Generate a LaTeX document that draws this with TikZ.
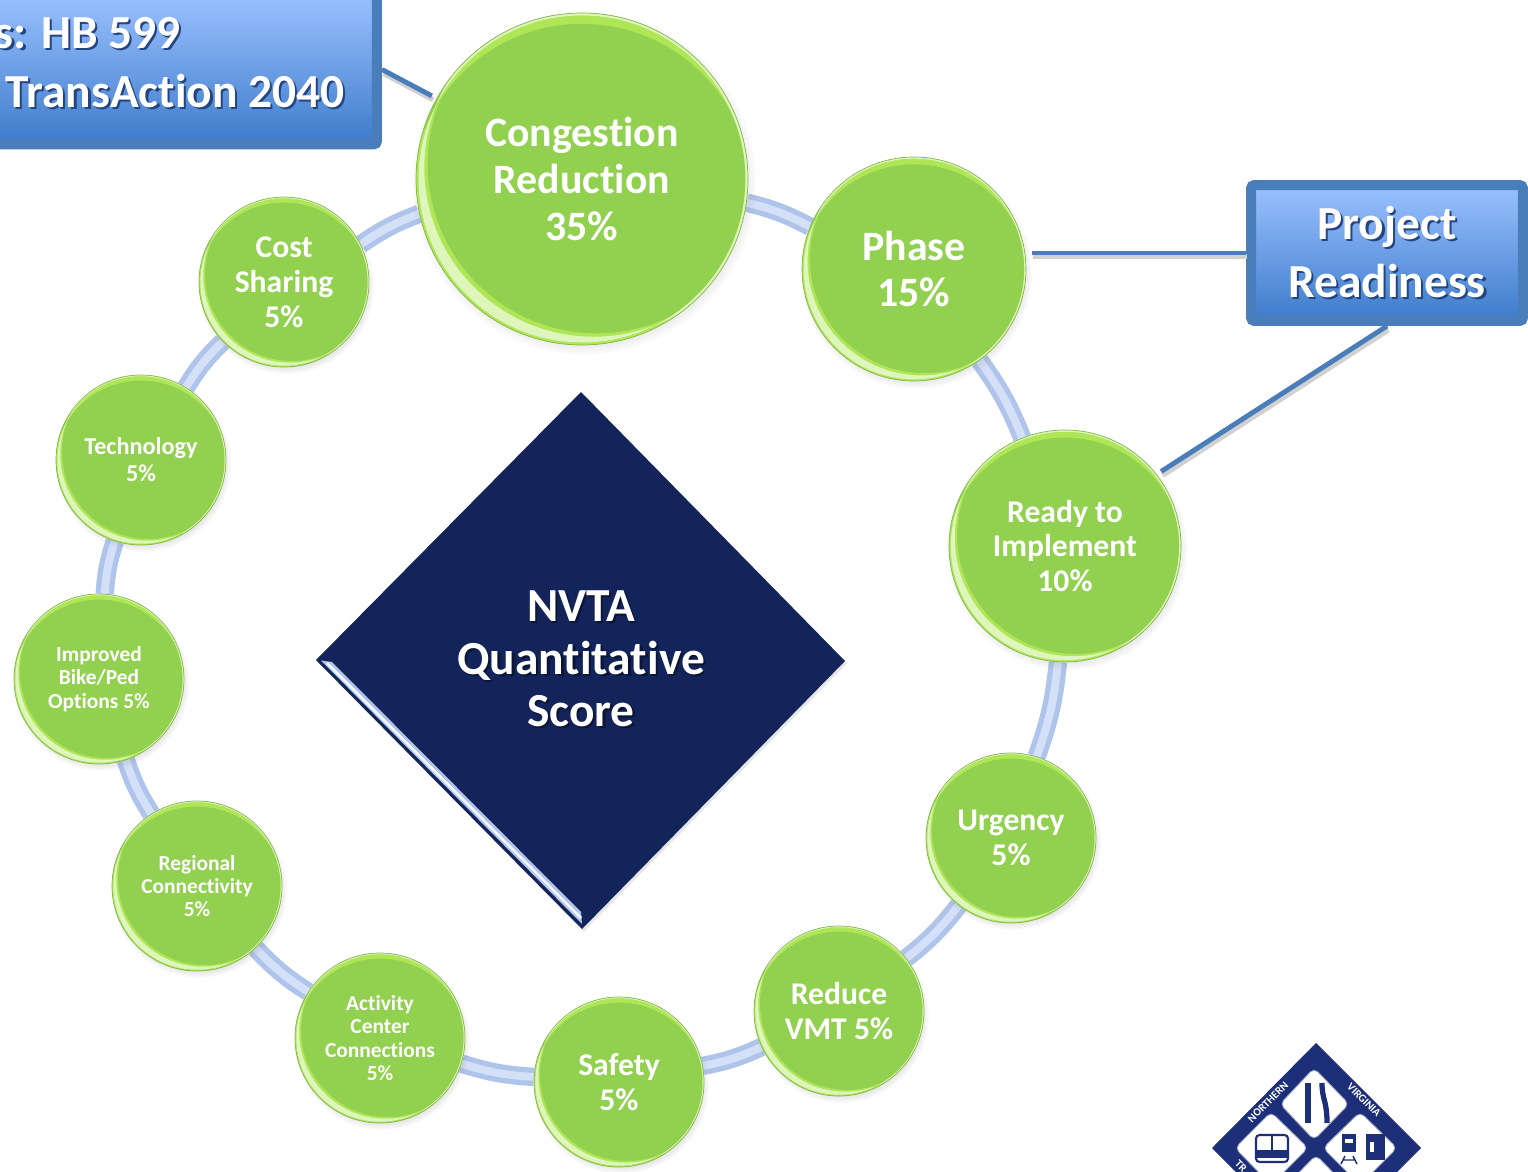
\documentclass[tikz,border=0pt]{standalone}
\usepackage{fontspec}
\setmainfont{Carlito}[Ligatures=NoCommon]
\usetikzlibrary{calc}
\usetikzlibrary{backgrounds}
\usetikzlibrary{shadows}
\definecolor{ballgreen}{HTML}{92D050}
\definecolor{ballrim}{HTML}{86B84E}
\definecolor{balltop}{HTML}{AEE655}
\definecolor{ringblue}{HTML}{AFC4EA}
\definecolor{ringpale}{HTML}{D3E0F8}
\definecolor{boxrim}{HTML}{4A7EBB}
\definecolor{boxtop}{HTML}{9AC1FF}
\definecolor{boxbot}{HTML}{3D7BCA}
\definecolor{navy}{HTML}{12245A}
\definecolor{logoblue}{HTML}{1C2F78}
\definecolor{softshade}{HTML}{24457F}
\newcommand{\softtext}[1]{\leavevmode\rlap{\kern1.3pt\raisebox{-1.3pt}{\textcolor{softshade}{#1}}}#1}
\newcommand{\darktext}[1]{\leavevmode\rlap{\kern1.3pt\raisebox{-1.3pt}{\textcolor{navy!60!black}{#1}}}#1}
\newcommand{\ballA}{\fontsize{23.8}{26.6}\bfseries\selectfont}
\newcommand{\ballB}{\fontsize{18}{19.8}\bfseries\selectfont}
\newcommand{\ballC}{\fontsize{13.8}{15.3}\bfseries\selectfont}
\newcommand{\ballD}{\fontsize{12.2}{13.3}\bfseries\selectfont}
\tikzset{
  ball/.style={circle,draw=ballrim,fill=ballgreen,text=white,align=center,inner sep=0pt,
    circular drop shadow={shadow xshift=1pt,shadow yshift=-2pt,opacity=.35,shadow scale=1.04}},
  ringlink/.style={draw=ringblue,line width=10.5pt,postaction={draw=ringpale,line width=4.5pt}},
  scorebox/.style={rectangle,draw=boxrim,line width=5.7pt,rounded corners=2pt,top color=boxtop,bottom color=boxbot,
    drop shadow={shadow xshift=1pt,shadow yshift=-1.5pt,opacity=.2}},
  boxtext/.style={text=white,font=\fontsize{27}{33}\bfseries\selectfont,align=center,inner sep=0pt},
  tie/.style={draw=boxrim,line width=2.8pt,shorten >=3pt,
    preaction={draw=black!18,line width=3pt,shorten >=3pt,transform canvas={xshift=.8pt,yshift=-2.2pt}}},
  logotext/.style={text=white,font=\fontsize{6.3}{7}\bfseries\selectfont,inner sep=0pt},
  logopane/.style={fill=white,draw=logoblue!45,line width=.5pt,rounded corners=3pt},
}
\begin{document}
\begin{tikzpicture}[x=.02cm,y=-.02cm]
\useasboundingbox (0,0) rectangle (1528,1172);
\clip (0,0) rectangle (1528,1172);
% ring of circles
\foreach \nm/\x/\y/\r/\fnt/\txt in {
  cong/582/179/166/\ballA/{Congestion\\Reduction\\35\%},
  phase/914/269/112/\ballA/{Phase\\15\%},
  ready/1065/546/116/\ballB/{Ready to\\Implement\\10\%},
  urgency/1011/838/85/\ballB/{Urgency\\5\%},
  vmt/839/1011/85/\ballB/{Reduce\\VMT 5\%},
  safety/619/1082/85/\ballB/{Safety\\5\%},
  activity/380/1038/85/\ballD/{Activity\\Center\\Connections\\5\%},
  regional/197/886/85/\ballD/{Regional\\Connectivity\\5\%},
  bike/99/679/85/\ballD/{Improved\\Bike/Ped\\Options 5\%},
  tech/141/460/85/\ballC/{Technology\\5\%},
  cost/284/282/85/\ballB/{Cost\\Sharing\\5\%}} {
 \node[ball,font=\fnt,minimum size={2*\r*.02cm},
   path picture={
     \coordinate (bc) at (path picture bounding box.center);
     \fill[balltop,even odd rule] (bc) circle (\r*.985) ($(bc)+(0,.09*\r)$) circle (\r*1.025);
     \fill[balltop,even odd rule] (bc) circle (\r*.985) ($(bc)+(.09*\r,-.09*\r)$) circle (\r*1.02);
     \fill[white,opacity=.6,even odd rule] (bc) circle (\r*.985) ($(bc)+(.07*\r,-.07*\r)$) circle (\r*1.02);
   }] (\nm) at (\x,\y) {\txt};
}
\begin{scope}[on background layer]
\foreach \a/\b in {cong/phase,phase/ready,ready/urgency,urgency/vmt,vmt/safety,safety/activity,
  activity/regional,regional/bike,bike/tech,tech/cost,cost/cong} {
 \draw[ringlink] (\a) to[bend left=7] (\b);
}
\end{scope}
% centre diamond
\fill[navy,drop shadow={shadow xshift=1pt,shadow yshift=-1.5pt,opacity=.2}] (581,392) -- (845,661) -- (582,929) -- (316,660) -- cycle;
\fill[ringblue] (321,660.5) -- (332,662) -- (581,912) -- (582,924) -- cycle;
\draw[white!85!ringblue,line width=1.5pt] (327,663) -- (581,918);
\node[text=white,font=\fontsize{27}{29.8}\bfseries\selectfont,align=center,inner sep=0pt] (score) at (581,660)
  {\darktext{NVTA}\\\darktext{Quantitative}\\\darktext{Score}};
% blue boxes
\node[scorebox,minimum width=8.54cm,minimum height=3cm] (priority) at (163.5,69.5) {};
\node[boxtext,anchor=east] (priorityA) at (181,34) {\softtext{s: HB 599}};
\node[boxtext,anchor=east] (priorityB) at (345,92) {\softtext{TransAction 2040}};
\node[scorebox,minimum width=5.44cm,minimum height=2.72cm,boxtext] (readiness) at (1387,253) {\softtext{Project}\\\softtext{Readiness}};
\draw[tie] (readiness.west) -- (phase.east |- readiness.west);
\draw[tie] (readiness.south) -- (ready.38);
\draw[tie] (priority.east) -- (cong.151);
% logo
\fill[logoblue] (1316,1043) -- (1421,1148) -- (1316,1253) -- (1212,1148) -- cycle;
\fill[logopane] (1314,1068) -- (1349,1104) -- (1314,1140) -- (1280,1104) -- cycle;
\fill[logopane] (1271,1112) -- (1308,1148) -- (1271,1185) -- (1235,1148) -- cycle;
\fill[logopane] (1360,1112) -- (1397,1148) -- (1360,1185) -- (1323,1148) -- cycle;
\fill[logopane] (1316,1155) -- (1352,1192) -- (1316,1229) -- (1280,1192) -- cycle;
\node[logotext,rotate=45] (logoN) at (1268,1102) {NORTHERN};
\node[logotext,rotate=-45] (logoV) at (1364,1100) {VIRGINIA};
\node[logotext,rotate=-45] (logoT) at (1241,1166) {TR};
% road
\draw[logoblue,line width=3pt] (1308,1083) -- (1308,1123);
\draw[logoblue,line width=3pt] (1322,1083) .. controls (1322,1100) and (1327,1100) .. (1327,1123);
% bus
\draw[logoblue,line width=1.2pt,rounded corners=2pt] (1256,1135) rectangle (1288,1162);
\fill[logoblue] (1256,1150) rectangle (1288,1158);
\draw[logoblue,line width=1pt] (1272,1135) -- (1272,1150);
% train and building
\fill[logoblue] (1342,1134) rectangle (1356,1152);
\fill[white] (1345,1139) rectangle (1353,1143);
\draw[logoblue,line width=.8pt] (1345,1156) -- (1341,1164) (1353,1156) -- (1357,1164) (1343,1160) -- (1355,1160);
\fill[logoblue] (1366,1134) rectangle (1385,1160);
\fill[white] (1370,1142) rectangle (1374,1152);
\end{tikzpicture}
\end{document}
